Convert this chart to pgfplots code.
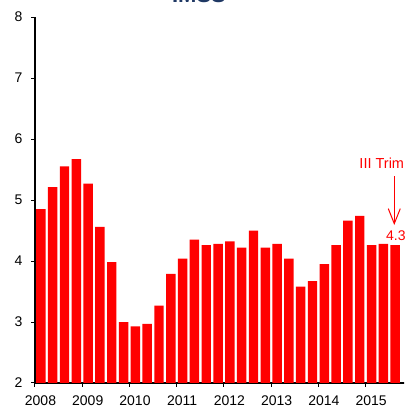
\documentclass[border=0pt]{standalone}
\usepackage{pgfplots}
\pgfplotsset{compat=1.18}
\usetikzlibrary{arrows.meta}
\usepackage{fontspec}
\setmainfont{Liberation Sans}
\definecolor{barred}{RGB}{255,0,0}
\definecolor{navytitle}{RGB}{31,56,100}
\begin{document}
\begin{tikzpicture}
\useasboundingbox (-35pt,-26pt) rectangle (369pt,383pt);
\clip (-35pt,-26pt) rectangle (369pt,383pt);
\begin{axis}[
 at={(0,0)}, anchor=south west,
 scale only axis, width=377.9pt, height=366pt,
 xmin=2008, xmax=2016, ymin=2, ymax=8,
 axis x line*=bottom, axis y line*=left,
 axis line style={line width=1.2pt, -},
 xtick={2008,2009,2010,2011,2012,2013,2014,2015},
 xticklabels={2008,2009,2010,2011,2012,2013,2014,2015},
 ytick={2,3,4,5,6,7,8},
 tick align=outside, major tick length=4pt,
 tick style={black, line width=1pt},
 x tick label style={font=\fontsize{14}{16}\selectfont, xshift=5.5pt, yshift=-5pt},
 y tick label style={font=\fontsize{14}{16}\selectfont, xshift=-5pt},
 /pgf/number format/assume math mode=true,
 ybar, bar width=0.2,
]
\addplot[fill=barred, draw=none] coordinates {
(2008.125,4.85) (2008.375,5.21) (2008.625,5.55) (2008.875,5.67)
(2009.125,5.27) (2009.375,4.56) (2009.625,3.98) (2009.875,3.00)
(2010.125,2.93) (2010.375,2.97) (2010.625,3.27) (2010.875,3.79)
(2011.125,4.04) (2011.375,4.35) (2011.625,4.26) (2011.875,4.28)
(2012.125,4.32) (2012.375,4.22) (2012.625,4.50) (2012.875,4.22)
(2013.125,4.28) (2013.375,4.04) (2013.625,3.58) (2013.875,3.67)
(2014.125,3.95) (2014.375,4.26) (2014.625,4.66) (2014.875,4.74)
(2015.125,4.26) (2015.375,4.28) (2015.625,4.26)
};
\node[anchor=base west, inner sep=0, text=barred, font=\fontsize{14.5}{16}\selectfont] at (axis cs:2014.865,5.52) {III Trim};
\draw[barred, line width=1pt, -{Straight Barb[length=15pt,width=12pt]}] (axis cs:2015.606,5.393) -- (axis cs:2015.606,4.59);
\node[anchor=base west, inner sep=0, text=barred, font=\fontsize{14}{16}\selectfont] at (axis cs:2015.43,4.344) {4.3};
\end{axis}
\node[anchor=base, inner sep=0, text=navytitle, font=\fontsize{22}{26}\selectfont\bfseries] at (164pt,380pt) {IMSS};
\end{tikzpicture}
\end{document}
